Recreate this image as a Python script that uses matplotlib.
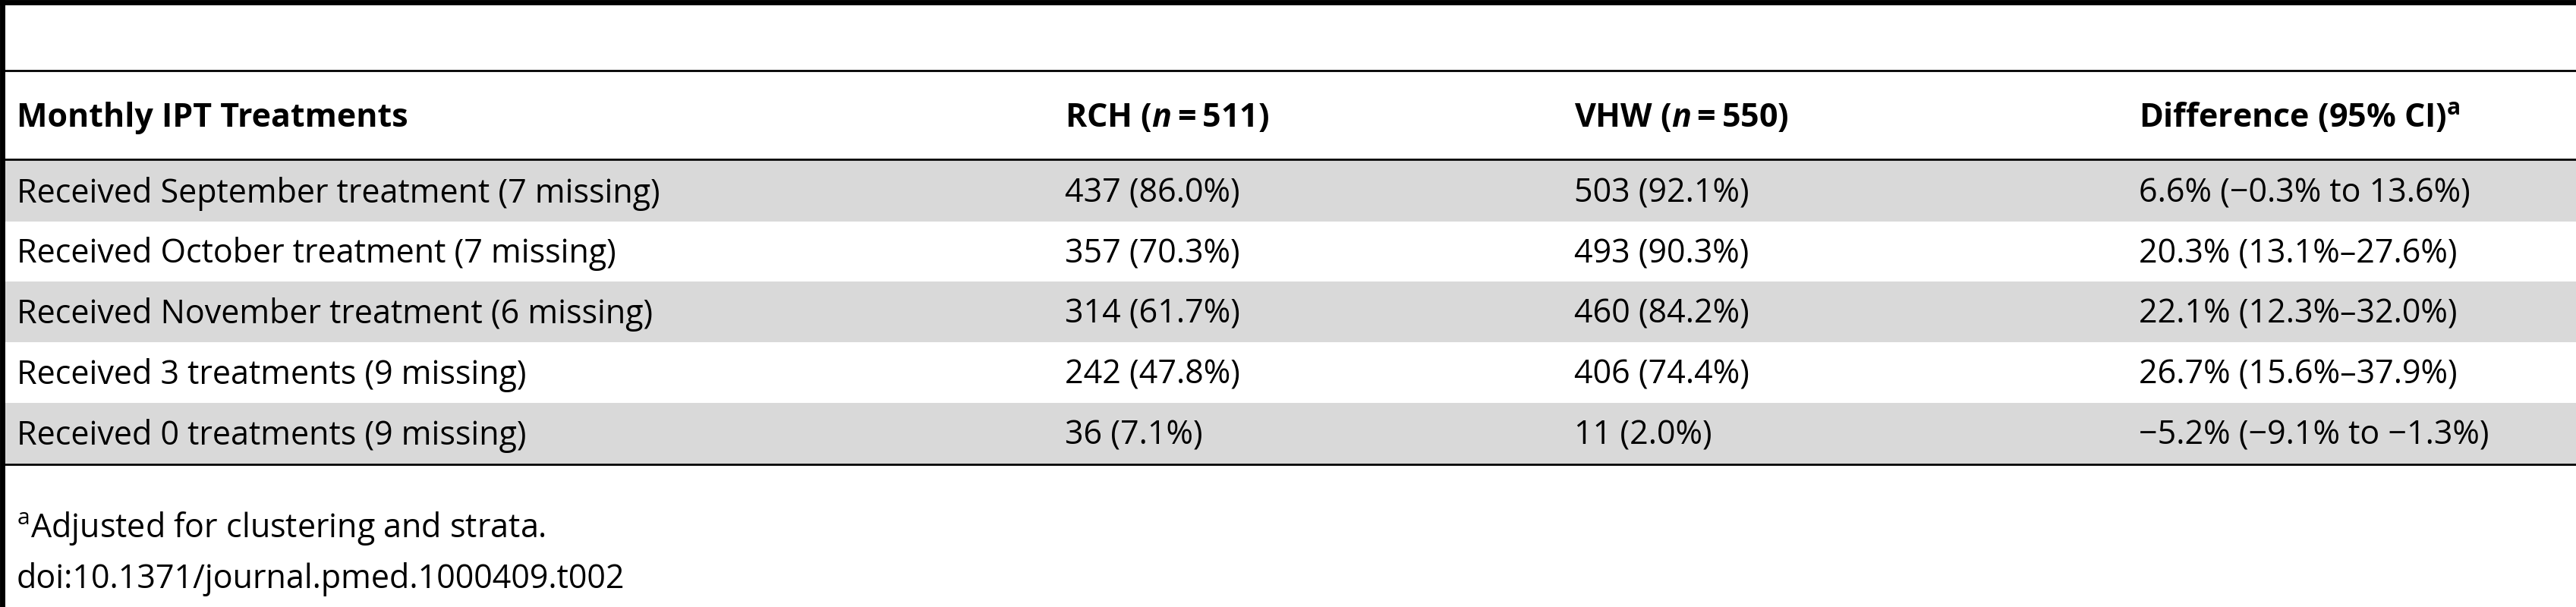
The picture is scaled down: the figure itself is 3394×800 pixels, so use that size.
import matplotlib
matplotlib.use("Agg")
import matplotlib.pyplot as plt
from matplotlib.patches import Rectangle

plt.rcParams['font.family'] = ['Open Sans', 'DejaVu Sans']
plt.rcParams['mathtext.fontset'] = 'custom'
plt.rcParams['mathtext.rm'] = 'Open Sans'
plt.rcParams['mathtext.it'] = 'Open Sans:italic:bold'
plt.rcParams['mathtext.bf'] = 'Open Sans:bold'

headers = ["Monthly IPT Treatments", r"RCH ($\mathit{n}$$\mathbf{=}$511)",
           r"VHW ($\mathit{n}$$\mathbf{=}$550)", r"Difference (95% CI)$^{\mathbf{a}}$"]
rows = ["Received September treatment (7 missing)",
        "Received October treatment (7 missing)",
        "Received November treatment (6 missing)",
        "Received 3 treatments (9 missing)",
        "Received 0 treatments (9 missing)"]
rch = ["437 (86.0%)", "357 (70.3%)", "314 (61.7%)", "242 (47.8%)", "36 (7.1%)"]
vhw = ["503 (92.1%)", "493 (90.3%)", "460 (84.2%)", "406 (74.4%)", "11 (2.0%)"]
diff = ["6.6% (\u22120.3% to 13.6%)", "20.3% (13.1%\u201327.6%)", "22.1% (12.3%\u201332.0%)",
        "26.7% (15.6%\u201337.9%)", "\u22125.2% (\u22129.1% to \u22121.3%)"]
footnote = r"$^{\mathrm{a}}$Adjusted for clustering and strata."
doi = "doi:10.1371/journal.pmed.1000409.t002"

W, H = 1568, 370
fig = plt.figure(figsize=(33.94, 8), dpi=100)
ax = fig.add_axes([0, 0, 1, 1])
ax.set_xlim(0, W); ax.set_ylim(H, 0); ax.axis('off')

fs = 31
colx = [10, 648, 958, 1302]
ax.plot([0, W], [1.5, 1.5], color='black', lw=5)
ax.plot([1.5, 1.5], [0, H], color='black', lw=5)
ax.plot([3, W], [43, 43], color='black', lw=2)
ax.plot([3, W], [97, 97], color='black', lw=2)
for x, h in zip(colx, headers):
    ax.text(x, 72, h, fontsize=fs, fontweight='bold', va='center', ha='left')
top, rh = 98, 36.9
for i in range(len(rows)):
    y0 = top + i * rh
    if i % 2 == 0:
        ax.add_patch(Rectangle((3, y0), W - 3, rh, color='#d9d9d9', lw=0))
    yc = y0 + rh / 2 + 1.5
    for x, t in zip(colx, [rows[i], rch[i], vhw[i], diff[i]]):
        ax.text(x, yc, t, fontsize=fs, va='center', ha='left')
ax.plot([3, W], [top + 5 * rh + 0.5, top + 5 * rh + 0.5], color='black', lw=2)
ax.text(10, 322, footnote, fontsize=fs, va='center', ha='left')
ax.text(10, 353, doi, fontsize=fs, va='center', ha='left')
fig.savefig("out.png", dpi=100)
